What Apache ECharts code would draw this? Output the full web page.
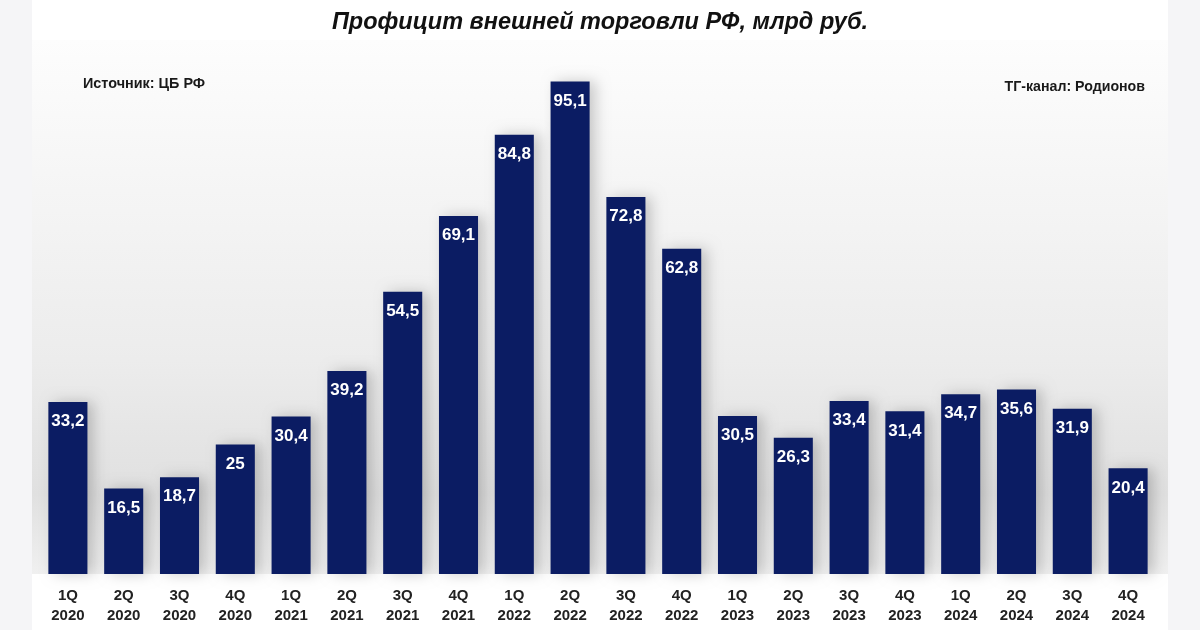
<!DOCTYPE html>
<html>
<head>
<meta charset="utf-8">
<script src="https://cdn.jsdelivr.net/npm/echarts@6/dist/echarts.min.js"></script>
<style>
  html, body { margin: 0; padding: 0; background: #f5f5f7; }
  #chart { width: 1200px; height: 630px; }
</style>
</head>
<body>
<div id="chart"></div>
<script>
// кварталы и профицит, млрд руб.
const quarters = ['1Q','2Q','3Q','4Q','1Q','2Q','3Q','4Q','1Q','2Q','3Q','4Q','1Q','2Q','3Q','4Q','1Q','2Q','3Q','4Q'];
const years = ['2020','2020','2020','2020','2021','2021','2021','2021','2022','2022','2022','2022','2023','2023','2023','2023','2024','2024','2024','2024'];
const surplus = [33.2, 16.5, 18.7, 25, 30.4, 39.2, 54.5, 69.1, 84.8, 95.1, 72.8, 62.8, 30.5, 26.3, 33.4, 31.4, 34.7, 35.6, 31.9, 20.4];

const categories = quarters.map((q, i) => q + '\n' + years[i]);

const chart = echarts.init(document.getElementById('chart'));

chart.setOption({
  backgroundColor: '#f5f5f7',
  animation: false,
  graphic: [
    { type: 'rect', z: -10, shape: { x: 32, y: 0, width: 1136, height: 630 }, style: { fill: '#ffffff' } },
    {
      type: 'rect', z: -9,
      shape: { x: 32, y: 40, width: 1136, height: 534 },
      style: {
        fill: new echarts.graphic.LinearGradient(0, 0, 0, 1, [
          { offset: 0, color: '#fdfdfd' },
          { offset: 0.6, color: '#ececec' },
          { offset: 0.85, color: '#e0e0e0' },
          { offset: 1, color: '#f0f0f0' }
        ])
      }
    },
    {
      type: 'text', left: 'center', top: 11,
      style: { text: 'Профицит внешней торговли РФ, млрд руб.', font: 'italic bold 23.5px "Liberation Sans", Arial, sans-serif', fill: '#111' }
    },
    {
      type: 'text', left: 83, top: 77,
      style: { text: 'Источник: ЦБ РФ', font: 'bold 14.4px "Liberation Sans", Arial, sans-serif', fill: '#1a1a1a' }
    },
    {
      type: 'text', right: 55, top: 80,
      style: { text: 'ТГ-канал: Родионов', font: 'bold 14.2px "Liberation Sans", Arial, sans-serif', fill: '#1a1a1a' }
    }
  ],
  grid: { left: 40, right: 44, top: 56, bottom: 56 },
  xAxis: {
    type: 'category',
    data: categories,
    axisLine: { show: false },
    axisTick: { show: false },
    axisLabel: {
      interval: 0,
      margin: 12,
      lineHeight: 20,
      color: '#222',
      fontSize: 15,
      fontWeight: 'bold',
      fontFamily: '"Liberation Sans", Arial, sans-serif'
    }
  },
  yAxis: {
    type: 'value',
    min: 0,
    max: 100,
    show: false,
    splitLine: { show: false }
  },
  series: [{
    type: 'bar',
    data: surplus,
    barCategoryGap: '30%',
    itemStyle: {
      color: '#0b1c63',
      shadowColor: 'rgba(0,0,0,0.2)',
      shadowBlur: 14,
      shadowOffsetX: 6,
      shadowOffsetY: 0
    },
    label: {
      show: true,
      position: 'insideTop',
      distance: 11,
      color: '#fff',
      fontSize: 17,
      fontWeight: 'bold',
      fontFamily: '"Liberation Sans", Arial, sans-serif',
      formatter: p => String(p.value).replace('.', ',')
    }
  }]
});
</script>
</body>
</html>
